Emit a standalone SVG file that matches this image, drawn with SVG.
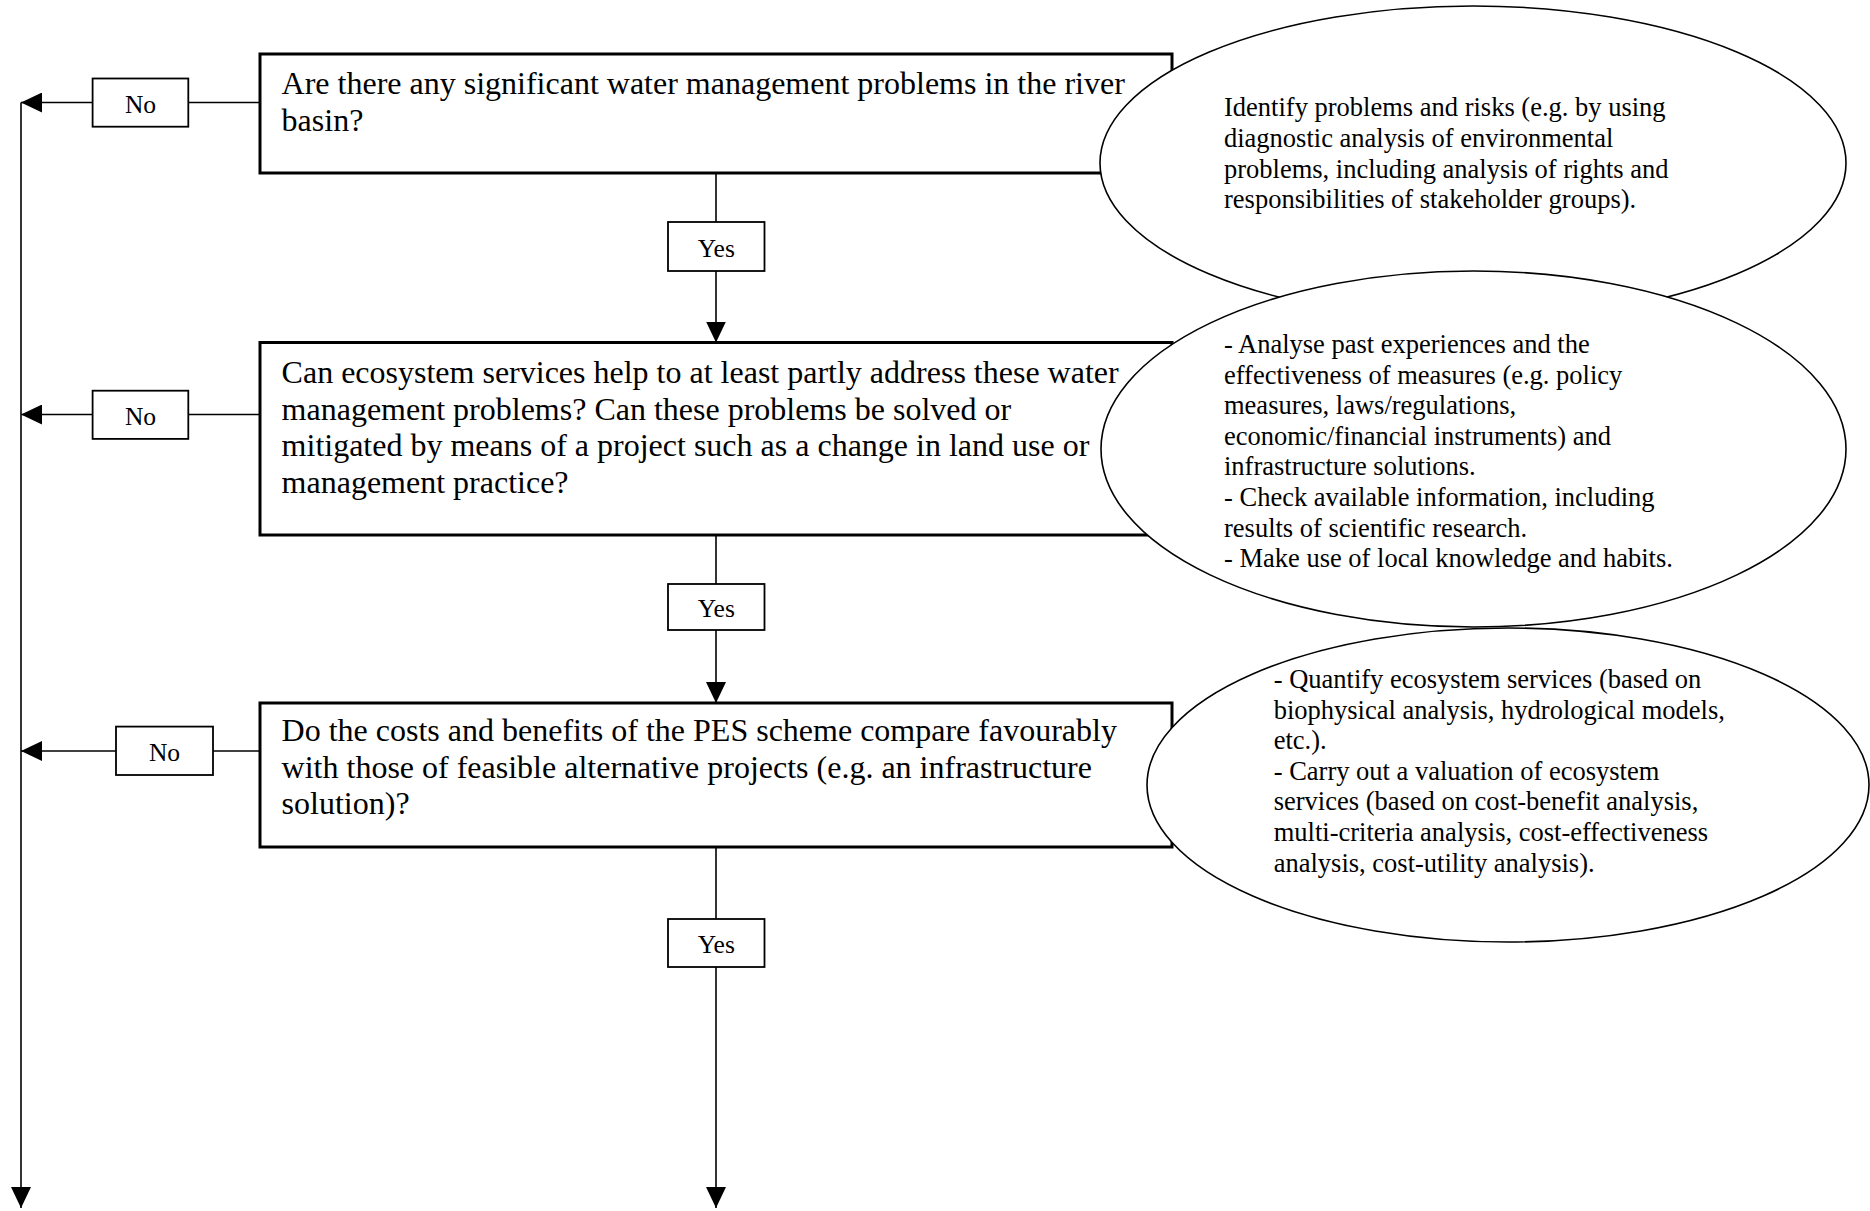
<svg xmlns="http://www.w3.org/2000/svg" width="1870" height="1211" viewBox="0 0 1870 1211">
<style>
.bg{fill:#fff}
.box{fill:#fff;stroke:#000;stroke-width:3}
.lbl{fill:#fff;stroke:#000;stroke-width:1.8}
.ell{fill:#fff;stroke:#000;stroke-width:1.6}
.con{fill:none;stroke:#000;stroke-width:1.6}
.t{font-family:"Liberation Serif","Times New Roman",serif;fill:#000}
.q{font-size:32px}
.n{font-size:26.5px}
.l{font-size:25.5px;text-anchor:middle}
</style>
<defs>
<marker id="ah" markerUnits="userSpaceOnUse" markerWidth="21" markerHeight="20" viewBox="0 0 21 20" refX="21" refY="10" orient="auto">
<path d="M0,0 L21,10 L0,20 z" fill="#000"/>
</marker>
</defs>
<rect class="bg" x="0" y="0" width="1870" height="1211"/>

<g id="connectors">
<line class="con" x1="260" y1="102.5" x2="188" y2="102.5"/>
<line class="con" x1="92.6" y1="102.5" x2="21" y2="102.5" marker-end="url(#ah)"/>
<line class="con" x1="21" y1="102.5" x2="21" y2="1208" marker-end="url(#ah)"/>
<line class="con" x1="260" y1="414.5" x2="188" y2="414.5"/>
<line class="con" x1="92.6" y1="414.5" x2="21" y2="414.5" marker-end="url(#ah)"/>
<line class="con" x1="260" y1="751" x2="213" y2="751"/>
<line class="con" x1="116" y1="751" x2="21" y2="751" marker-end="url(#ah)"/>
<line class="con" x1="716" y1="173" x2="716" y2="222"/>
<line class="con" x1="716" y1="271" x2="716" y2="342.5" marker-end="url(#ah)"/>
<line class="con" x1="716" y1="535" x2="716" y2="584"/>
<line class="con" x1="716" y1="630" x2="716" y2="703" marker-end="url(#ah)"/>
<line class="con" x1="716" y1="847" x2="716" y2="919"/>
<line class="con" x1="716" y1="967" x2="716" y2="1208" marker-end="url(#ah)"/>
</g>

<g id="q1">
<rect class="box" x="260" y="54" width="912" height="119"/>
<text class="t q"><tspan x="281.6" y="94.3">Are there any significant water management problems in the river</tspan><tspan x="281.6" y="130.6">basin?</tspan></text>
</g>
<g id="q2">
<rect class="box" x="260" y="342.5" width="912" height="192.5"/>
<text class="t q"><tspan x="281.6" y="383">Can ecosystem services help to at least partly address these water</tspan><tspan x="281.6" y="419.5">management problems? Can these problems be solved or</tspan><tspan x="281.6" y="456">mitigated by means of a project such as a change in land use or</tspan><tspan x="281.6" y="492.5">management practice?</tspan></text>
</g>
<g id="q3">
<rect class="box" x="260" y="703" width="912" height="144"/>
<text class="t q"><tspan x="281.6" y="741">Do the costs and benefits of the PES scheme compare favourably</tspan><tspan x="281.6" y="777.5">with those of feasible alternative projects (e.g. an infrastructure</tspan><tspan x="281.6" y="814">solution)?</tspan></text>
</g>

<g id="no1">
<rect class="lbl" x="92.6" y="78.5" width="95.7" height="48.2"/>
<text class="t l" x="140.5" y="112.6">No</text>
</g>
<g id="no2">
<rect class="lbl" x="92.6" y="390.7" width="95.7" height="48.2"/>
<text class="t l" x="140.5" y="424.8">No</text>
</g>
<g id="no3">
<rect class="lbl" x="116" y="726.6" width="97" height="48.4"/>
<text class="t l" x="164.5" y="760.8">No</text>
</g>
<g id="yes1">
<rect class="lbl" x="668" y="222" width="96.5" height="49"/>
<text class="t l" x="716.3" y="256.5">Yes</text>
</g>
<g id="yes2">
<rect class="lbl" x="668" y="584" width="96.5" height="46"/>
<text class="t l" x="716.3" y="617">Yes</text>
</g>
<g id="yes3">
<rect class="lbl" x="668" y="919" width="96.5" height="48"/>
<text class="t l" x="716.3" y="953">Yes</text>
</g>

<g id="e1">
<ellipse class="ell" cx="1473" cy="163" rx="373" ry="157"/>
<text class="t n"><tspan x="1224" y="116.3">Identify problems and risks (e.g. by using</tspan><tspan x="1224" y="146.9">diagnostic analysis of environmental</tspan><tspan x="1224" y="177.5">problems, including analysis of rights and</tspan><tspan x="1224" y="208.1">responsibilities of stakeholder groups).</tspan></text>
</g>
<g id="e2">
<ellipse class="ell" cx="1473.5" cy="449" rx="372.5" ry="178"/>
<text class="t n"><tspan x="1224" y="353">- Analyse past experiences and the</tspan><tspan x="1224" y="383.6">effectiveness of measures (e.g. policy</tspan><tspan x="1224" y="414.2">measures, laws/regulations,</tspan><tspan x="1224" y="444.8">economic/financial instruments) and</tspan><tspan x="1224" y="475.4">infrastructure solutions.</tspan><tspan x="1224" y="506">- Check available information, including</tspan><tspan x="1224" y="536.6">results of scientific research.</tspan><tspan x="1224" y="567.2">- Make use of local knowledge and habits.</tspan></text>
</g>
<g id="e3">
<ellipse class="ell" cx="1508" cy="785" rx="361" ry="157"/>
<text class="t n"><tspan x="1273.7" y="688">- Quantify ecosystem services (based on</tspan><tspan x="1273.7" y="718.6">biophysical analysis, hydrological models,</tspan><tspan x="1273.7" y="749.2">etc.).</tspan><tspan x="1273.7" y="779.8">- Carry out a valuation of ecosystem</tspan><tspan x="1273.7" y="810.4">services (based on cost-benefit analysis,</tspan><tspan x="1273.7" y="841">multi-criteria analysis, cost-effectiveness</tspan><tspan x="1273.7" y="871.6">analysis, cost-utility analysis).</tspan></text>
</g>
</svg>
